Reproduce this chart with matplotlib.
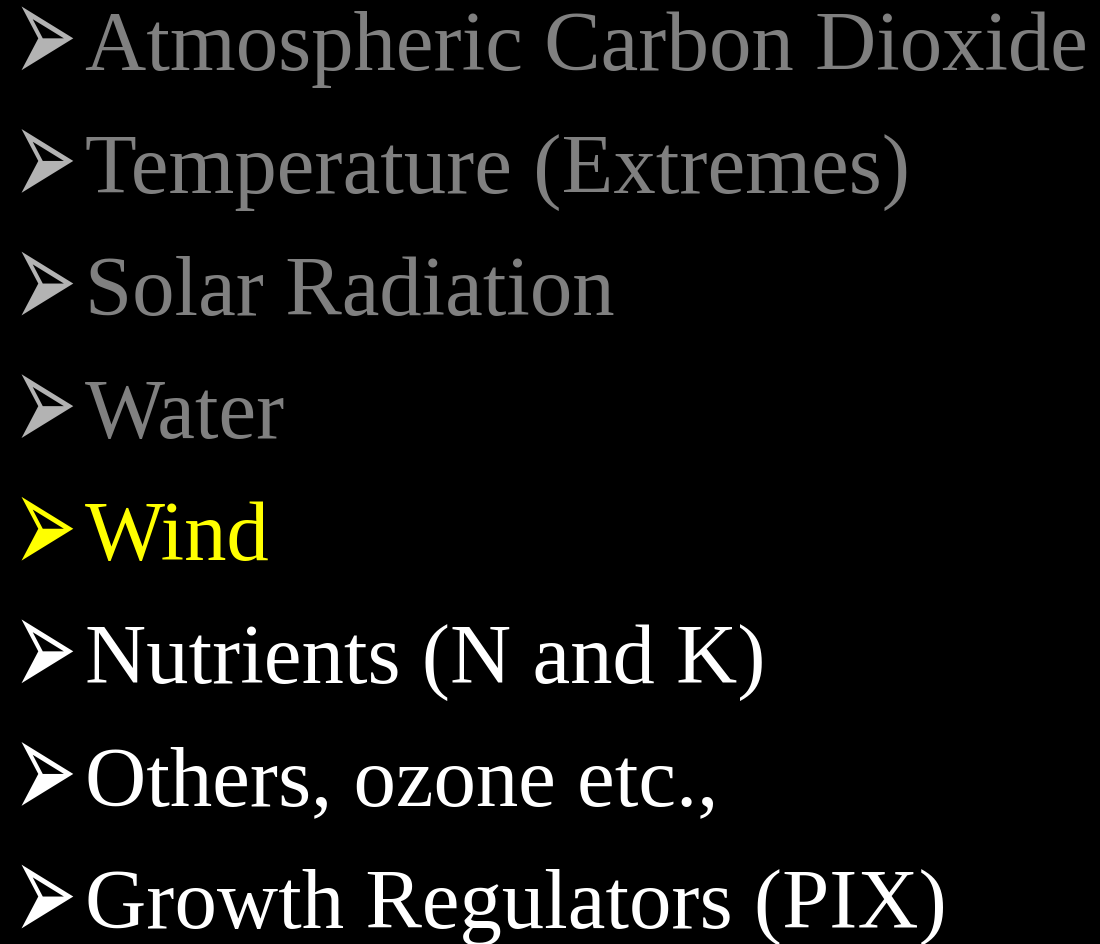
import matplotlib
matplotlib.use("Agg")
import matplotlib.pyplot as plt
from matplotlib.patheffects import AbstractPathEffect
from matplotlib.transforms import Affine2D

items = [
    "Atmospheric Carbon Dioxide",
    "Temperature (Extremes)",
    "Solar Radiation",
    "Water",
    "Wind",
    "Nutrients (N and K)",
    "Others, ozone etc.,",
    "Growth Regulators (PIX)",
]
text_colors = ["#808080", "#808080", "#808080", "#808080", "#ffff00", "#ffffff", "#ffffff", "#ffffff"]
arrow_colors = ["#b3b3b3", "#b3b3b3", "#b3b3b3", "#b3b3b3", "#ffff00", "#ffffff", "#ffffff", "#ffffff"]


class Stretch(AbstractPathEffect):
    """Scale the rendered glyph about its own centre."""
    def __init__(self, sx=1.0, sy=1.0):
        super().__init__()
        self.sx, self.sy = sx, sy

    def draw_path(self, renderer, gc, tpath, affine, rgbFace=None):
        verts = affine.transform(tpath.vertices)
        cx = (verts[:, 0].min() + verts[:, 0].max()) / 2
        cy = (verts[:, 1].min() + verts[:, 1].max()) / 2
        extra = Affine2D().translate(-cx, -cy).scale(self.sx, self.sy).translate(cx, cy)
        renderer.draw_path(gc, tpath, affine + extra, rgbFace)


W, H = 1100, 945
fig = plt.figure(figsize=(W / 100, H / 100), dpi=100, facecolor="black")

base0 = 70
step = 122.6
for i, (t, tc, ac) in enumerate(zip(items, text_colors, arrow_colors)):
    yb = base0 + i * step
    fig.text(85 / W, 1 - yb / H, t, color=tc, fontsize=61,
             family="Liberation Serif", ha="left", va="baseline")
    fig.text(45 / W, 1 - (yb - 24.5) / H, "\u27a2", color=ac, fontsize=55,
             family="DejaVu Sans", ha="center", va="center",
             path_effects=[Stretch(1.0, 1.9)])

fig.savefig("out.png", dpi=100, facecolor="black")
